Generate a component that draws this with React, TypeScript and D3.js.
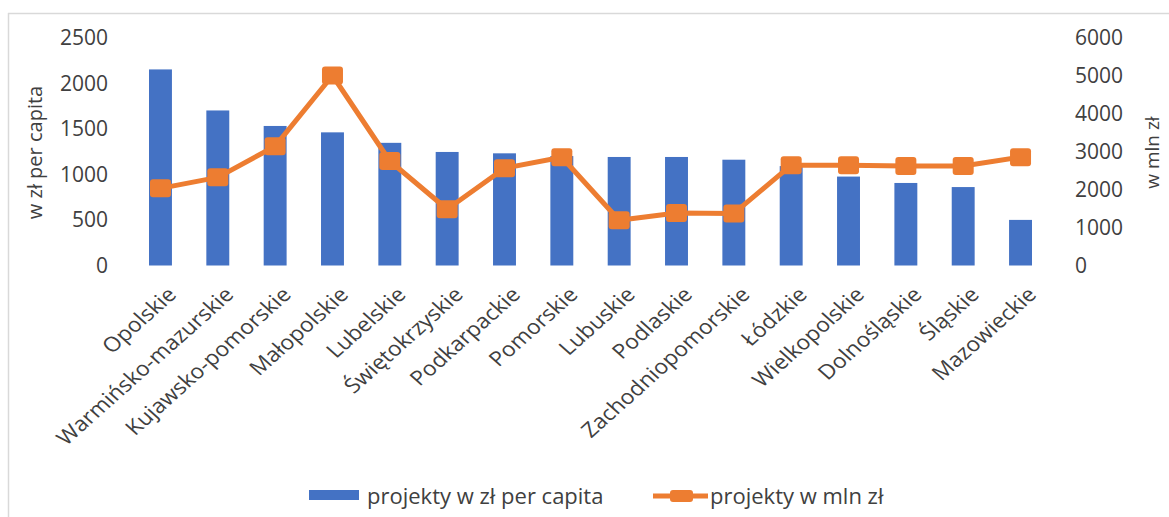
import React from "react";
import * as d3 from "d3";

const categories = [
  "Opolskie",
  "Warmińsko-mazurskie",
  "Kujawsko-pomorskie",
  "Małopolskie",
  "Lubelskie",
  "Świętokrzyskie",
  "Podkarpackie",
  "Pomorskie",
  "Lubuskie",
  "Podlaskie",
  "Zachodniopomorskie",
  "Łódzkie",
  "Wielkopolskie",
  "Dolnośląskie",
  "Śląskie",
  "Mazowieckie",
];
const perCapita = [2150, 1700, 1530, 1460, 1345, 1245, 1230, 1200, 1190, 1190, 1160, 1090, 975, 905, 860, 500];
const mlnZl = [2030, 2320, 3140, 5000, 2750, 1480, 2560, 2850, 1190, 1380, 1370, 2640, 2640, 2620, 2620, 2850];
const leftTicks = [0, 500, 1000, 1500, 2000, 2500];
const rightTicks = [0, 1000, 2000, 3000, 4000, 5000, 6000];
const seriesNames = ["projekty w zł per capita", "projekty w mln zł"];
const leftTitle = "w zł per capita";
const rightTitle = "w mln zł";

const W = 1169;
const H = 517;
const BLUE = "#4472C4";
const ORANGE = "#ED7D31";
const TEXT = "#404040";
const FONT = "'Open Sans', sans-serif";

export default function App() {
  const x = d3
    .scaleBand<string>()
    .domain(categories)
    .range([131.8, 1049.2])
    .paddingInner(0.6)
    .paddingOuter(0.3);
  const yL = d3.scaleLinear().domain([0, 2500]).range([265.5, 37.5]);
  const yR = d3.scaleLinear().domain([0, 6000]).range([265.5, 37.5]);
  const cx = (c: string) => (x(c) as number) + x.bandwidth() / 2;

  const line = d3
    .line<number>()
    .x((_, i) => cx(categories[i]))
    .y((d) => yR(d));

  return (
    <svg
      width={W}
      height={H}
      style={{ position: "absolute", left: 0, top: 0, background: "#fff" }}
      fontFamily={FONT}
    >
      <rect x={0} y={0} width={W} height={H} fill="#fff" />
      <line x1={8.5} y1={13} x2={8.5} y2={H} stroke="#d9d9d9" strokeWidth={1.5} />
      <line x1={8} y1={13.5} x2={W} y2={13.5} stroke="#d9d9d9" strokeWidth={1.5} />

      {/* left ticks */}
      {leftTicks.map((t) => (
        <text key={"l" + t} x={108} y={yL(t)} dy="0.36em" textAnchor="end" fontSize={21} fill={TEXT}>
          {t}
        </text>
      ))}
      {/* right ticks */}
      {rightTicks.map((t) => (
        <text key={"r" + t} x={1075} y={yR(t)} dy="0.36em" textAnchor="start" fontSize={21} fill={TEXT}>
          {t}
        </text>
      ))}
      <text
        transform={`translate(35,152.5) rotate(-90)`}
        textAnchor="middle"
        dy="0.35em"
        fontSize={20}
        fill={TEXT}
      >
        {leftTitle}
      </text>
      <text
        transform={`translate(1152,152.5) rotate(-90)`}
        textAnchor="middle"
        dy="0.35em"
        fontSize={19}
        fill={TEXT}
      >
        {rightTitle}
      </text>

      {/* bars */}
      {categories.map((c, i) => (
        <rect
          key={"b" + c}
          x={x(c)}
          y={yL(perCapita[i])}
          width={x.bandwidth()}
          height={yL(0) - yL(perCapita[i])}
          fill={BLUE}
        />
      ))}

      {/* line */}
      <path d={line(mlnZl) || ""} fill="none" stroke={ORANGE} strokeWidth={5} strokeLinejoin="round" />
      {mlnZl.map((v, i) => (
        <rect
          key={"m" + i}
          x={cx(categories[i]) - 10.5}
          y={yR(v) - 9}
          width={21}
          height={18}
          rx={3}
          fill={ORANGE}
        />
      ))}

      {/* category labels */}
      {categories.map((c) => (
        <text
          key={"c" + c}
          transform={`translate(${cx(c) + 5},285) scale(1.12,1) rotate(-45)`}
          textAnchor="end"
          dy="0.75em"
          fontSize={20.5}
          fill={TEXT}
        >
          {c}
        </text>
      ))}

      {/* legend */}
      <rect x={309} y={490} width={50} height={10} fill={BLUE} />
      <text x={367} y={496} dy="0.35em" fontSize={22} fill={TEXT}>
        {seriesNames[0]}
      </text>
      <line x1={653} y1={496} x2={708} y2={496} stroke={ORANGE} strokeWidth={5} />
      <rect x={670} y={490} width={23} height={12} rx={3} fill={ORANGE} />
      <text x={710} y={496} dy="0.35em" fontSize={22} fill={TEXT}>
        {seriesNames[1]}
      </text>
    </svg>
  );
}
